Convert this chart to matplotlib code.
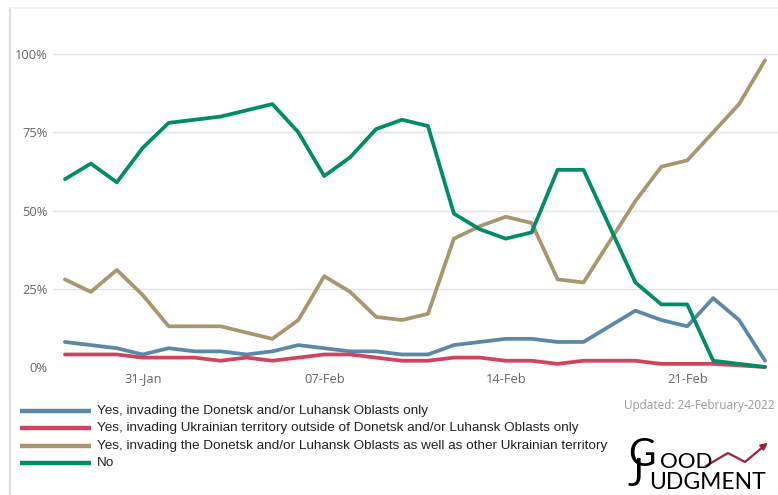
import matplotlib
matplotlib.use("Agg")
import matplotlib.pyplot as plt
from matplotlib.lines import Line2D
import numpy as np

dates = ["28-Jan", "29-Jan", "30-Jan", "31-Jan", "01-Feb", "02-Feb", "03-Feb",
         "04-Feb", "05-Feb", "06-Feb", "07-Feb", "08-Feb", "09-Feb", "10-Feb",
         "11-Feb", "12-Feb", "13-Feb", "14-Feb", "15-Feb", "16-Feb", "17-Feb",
         "18-Feb", "19-Feb", "20-Feb", "21-Feb", "22-Feb", "23-Feb", "24-Feb"]

donetsk_only = [8, 7, 6, 4, 6, 5, 5, 4, 5, 7, 6, 5, 5, 4, 4, 7, 8, 9, 9, 8, 8,
                13, 18, 15, 13, 22, 15, 2]
outside_only = [4, 4, 4, 3, 3, 3, 2, 3, 2, 3, 4, 4, 3, 2, 2, 3, 3, 2, 2, 1, 2,
                2, 2, 1, 1, 1, 0.5, 0]
both = [28, 24, 31, 23, 13, 13, 13, 11, 9, 15, 29, 24, 16, 15, 17, 41, 45, 48,
        46, 28, 27, 40, 53, 64, 66, 75, 84, 98]
no = [60, 65, 59, 70, 78, 79, 80, 82, 84, 75, 61, 67, 76, 79, 77, 49, 44, 41,
      43, 63, 63, 45, 27, 20, 20, 2, 1, 0]

series_labels = [
    "Yes, invading the Donetsk and/or Luhansk Oblasts only",
    "Yes, invading Ukrainian territory outside of Donetsk and/or Luhansk Oblasts only",
    "Yes, invading the Donetsk and/or Luhansk Oblasts as well as other Ukrainian territory",
    "No",
]
colors = ["#5B88A8", "#CF4560", "#A8976E", "#008C64"]
xtick_labels = ["31-Jan", "07-Feb", "14-Feb", "21-Feb"]
ytick_values = [0, 25, 50, 75, 100]

W, H = 778, 495
fig = plt.figure(figsize=(W / 100, H / 100), dpi=100)
fig.patch.set_facecolor("white")

def fx(px):
    return px / W

def fy(py):
    return 1 - py / H

ax = fig.add_axes([fx(53), fy(367), fx(778) - fx(53), fy(54) - fy(367)])
x = np.arange(len(dates))
all_series = [donetsk_only, outside_only, both, no]
for vals, c in zip(all_series, colors):
    ax.plot(x, vals, color=c, lw=2.7, solid_joinstyle="round",
            solid_capstyle="round", clip_on=False, zorder=3)

ax.set_xlim(-0.46, 27.5)
ax.set_ylim(0, 100)
ax.set_yticks(ytick_values)
ax.set_yticklabels([f"{v}%" for v in ytick_values])
ax.set_xticks([dates.index(d) for d in xtick_labels])
ax.set_xticklabels(xtick_labels)
ax.grid(axis="y", color="#E3E3E3", lw=1)
ax.set_axisbelow(True)
for s in ax.spines.values():
    s.set_visible(False)
ax.tick_params(axis="both", length=0, colors="#666666", labelsize=9.3)
ax.tick_params(axis="y", pad=4)
ax.tick_params(axis="x", pad=4)
for lab in ax.get_xticklabels() + ax.get_yticklabels():
    lab.set_fontfamily("Open Sans")

# light frame lines
fig.add_artist(Line2D([fx(10), fx(10)], [fy(8), fy(495)], color="#C9D6EC", lw=1.2))
fig.add_artist(Line2D([fx(10), fx(778)], [fy(8), fy(8)], color="#EEF1F7", lw=1.2))

# legend
leg_y = [411, 428, 446, 463]
for lbl, c, py in zip(series_labels, colors, leg_y):
    fig.add_artist(Line2D([fx(20), fx(91)], [fy(py), fy(py)], color=c, lw=3.2,
                          solid_capstyle="butt"))
    fig.text(fx(97), fy(py), lbl, fontsize=9.7, family="Liberation Sans",
             color="#222222", va="center", ha="left")

fig.text(fx(775), fy(405), "Updated: 24-February-2022", fontsize=8.5,
         family="Open Sans", color="#9A9A9A", ha="right", va="center")

# logo
fig.text(fx(628), fy(437), "G\nJ", fontsize=27, family="Lato", color="black",
         ha="left", va="top", linespacing=0.45)
fig.text(fx(660), fy(468), "OOD", fontsize=16, family="Lato", color="black",
         ha="left", va="baseline")
fig.text(fx(649), fy(489), "UDGMENT", fontsize=16.5, family="Lato", color="black",
         ha="left", va="baseline")
zx = [706, 728, 745, 764]
zy = [466, 453, 462, 446]
fig.add_artist(Line2D([fx(v) for v in zx], [fy(v) for v in zy], color="#9B2335",
                      lw=1.6))
ax.annotate("", xy=(fx(770), fy(441)), xytext=(fx(760), fy(449)),
            xycoords="figure fraction", textcoords="figure fraction",
            arrowprops=dict(arrowstyle="-|>", color="#9B2335", lw=1.4,
                            mutation_scale=10))

fig.savefig("out.png", dpi=100, facecolor="white")
